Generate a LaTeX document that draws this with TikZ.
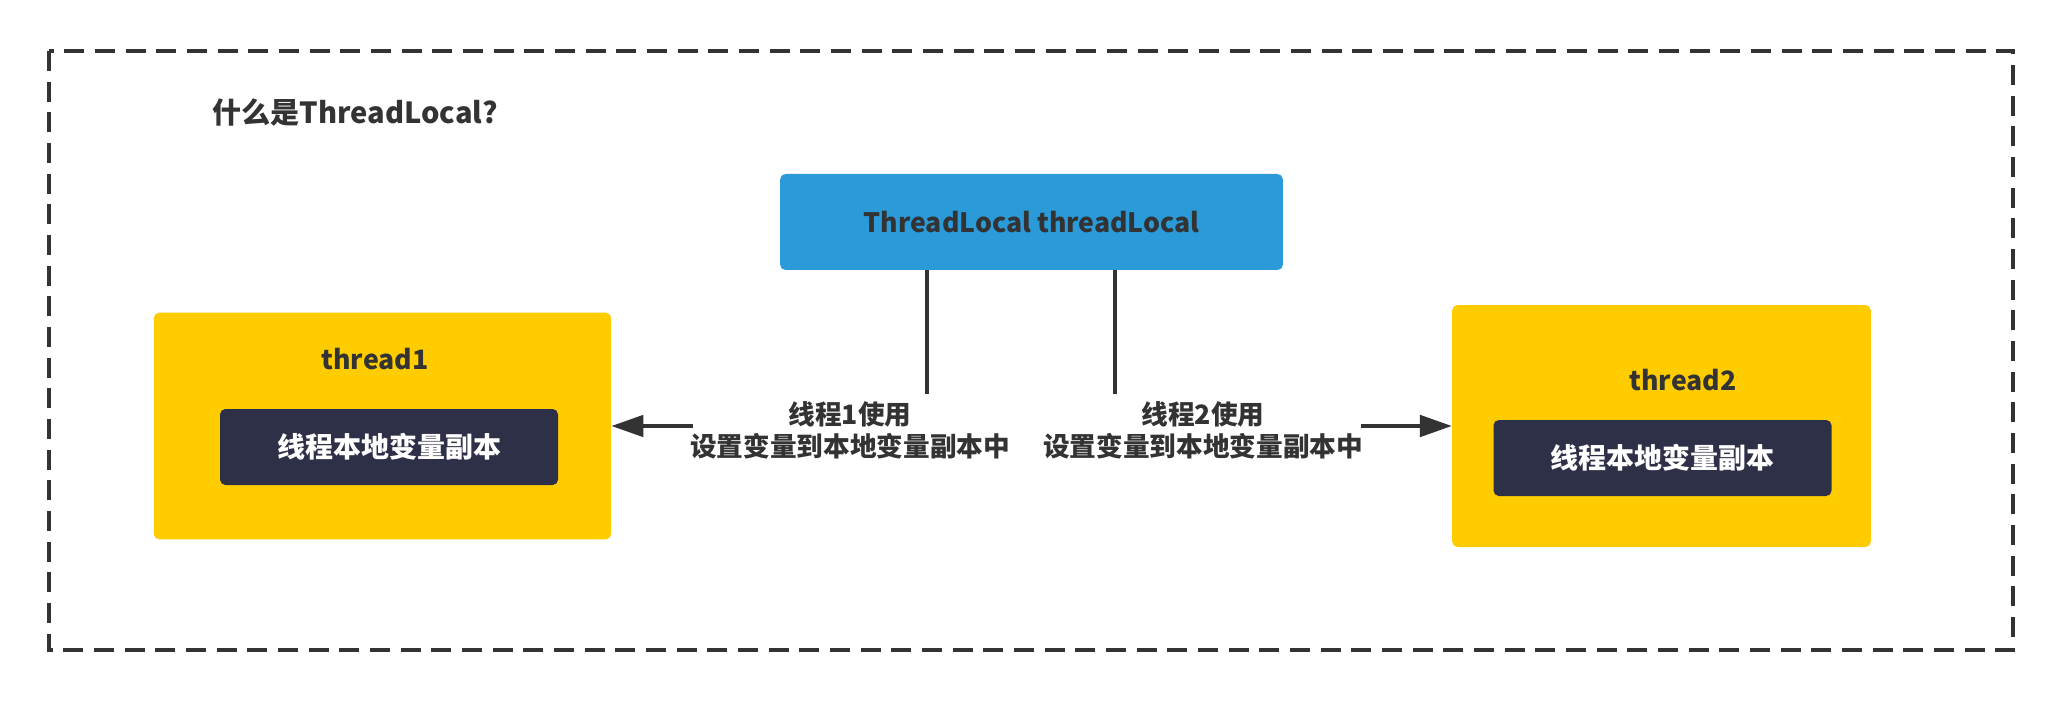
\documentclass[tikz,border=0pt]{standalone}
\usepackage{fontspec}
\setmainfont{Noto Sans CJK SC}
\usetikzlibrary{arrows.meta,positioning}

\definecolor{tlblue}{HTML}{2A9AD9}
\definecolor{tlyellow}{HTML}{FFCC00}
\definecolor{tldark}{HTML}{2D3047}
\definecolor{tlline}{HTML}{333333}

\begin{document}
\begin{tikzpicture}[x=0.75pt, y=-0.75pt,
		box/.style={rounded corners=4pt, inner sep=0pt, font=\bfseries\fontsize{20}{24}\selectfont},
		varbox/.style={box, fill=tldark, text=white, minimum width=253.5pt, minimum height=57pt, font=\bfseries\fontsize{21}{25}\selectfont},
		threadbox/.style={box, fill=tlyellow},
		label/.style={text=tlline, font=\bfseries\fontsize{20}{24}\selectfont, align=center},
		link/.style={line width=3pt, draw=tlline},
		setarrow/.style={link, -{Triangle[length=24pt, width=16pt]}}]
		\useasboundingbox (0, 0) rectangle (2062, 702);

		% outer frame
		\draw [tlline, line width=2.4pt, dash pattern=on 15pt off 8pt] (49, 51) rectangle (2013, 650);
		\node [label, anchor=west, font=\bfseries\fontsize{21.8}{26}\selectfont] (title) at (208, 113) {什么是ThreadLocal?};

		% the shared ThreadLocal object
		\node [box, fill=tlblue, text=tlline, minimum width=377pt, minimum height=72pt] (tl) at (1031.5, 222) {ThreadLocal threadLocal};

		% thread 1 with its copy
		\node [threadbox, minimum width=343pt, minimum height=170pt] (t1) at (382.5, 426) {};
		\node [label] (t1name) at (375, 359) {thread1};
		\node [varbox] (copy1) at (389, 447) {线程本地变量副本};

		% thread 2 with its copy
		\node [threadbox, minimum width=314pt, minimum height=181.5pt] (t2) at (1661.5, 426) {};
		\node [label] (t2name) at (1683, 380) {thread2};
		\node [varbox] (copy2) at (1662.5, 458) {线程本地变量副本};

		% usage labels
		\node [label] (use1) at (850, 430) {线程1使用\\设置变量到本地变量副本中};
		\node [label] (use2) at (1203, 430) {线程2使用\\设置变量到本地变量副本中};

		\coordinate (drop1) at (927, 394);
		\coordinate (drop2) at (1115, 394);
		\coordinate (from1) at (693, 426);
		\coordinate (from2) at (1361, 426);

		\draw [link] (tl.south -| drop1) -- (drop1);
		\draw [link] (tl.south -| drop2) -- (drop2);
		\draw [setarrow] (from1) -- (t1.east |- from1);
		\draw [setarrow] (from2) -- (t2.west |- from2);
	\end{tikzpicture}
\end{document}
